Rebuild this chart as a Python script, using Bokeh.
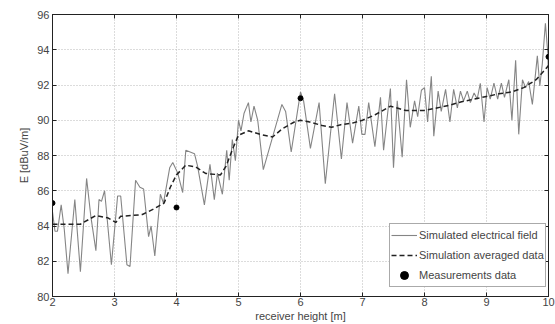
from bokeh.plotting import figure
from bokeh.models import Range1d, Legend, LegendItem, FixedTicker, LinearAxis, CustomJSTickFormatter
from bokeh.embed import file_html
from bokeh.resources import INLINE

# Simulated electrical field
sim_x = [2.00, 2.04, 2.08, 2.14, 2.19, 2.25, 2.36, 2.45, 2.55, 2.62, 2.70, 2.75, 2.79, 2.84,
         2.95, 3.05, 3.10, 3.20, 3.25, 3.34, 3.41, 3.47, 3.55, 3.59, 3.65, 3.74, 3.79, 3.89,
         3.94, 4.02, 4.10, 4.15, 4.29, 4.34, 4.45, 4.54, 4.61, 4.66, 4.74, 4.81, 4.85, 4.90,
         4.95, 5.00, 5.04, 5.09, 5.16, 5.20, 5.25, 5.31, 5.40, 5.70, 5.76, 5.85, 5.96, 6.00,
         6.05, 6.16, 6.30, 6.40, 6.55, 6.66, 6.75, 6.84, 6.94, 6.99, 7.04, 7.10, 7.20, 7.29,
         7.34, 7.45, 7.50, 7.56, 7.64, 7.71, 7.77, 7.84, 7.89, 7.95, 8.00, 8.05, 8.11, 8.15,
         8.22, 8.27, 8.34, 8.41, 8.47, 8.53, 8.58, 8.63, 8.69, 8.74, 8.80, 8.85, 8.90, 8.96,
         9.01, 9.06, 9.12, 9.18, 9.24, 9.29, 9.36, 9.41, 9.47, 9.52, 9.58, 9.63, 9.68, 9.74,
         9.82, 9.86, 9.90, 9.95, 9.99, 10.00]
sim_y = [84.8, 83.7, 83.7, 85.2, 83.8, 81.3, 85.5, 81.4, 86.7, 84.5, 82.6, 85.5, 85.4, 86.0,
         81.8, 85.7, 85.7, 81.8, 81.7, 86.6, 86.2, 86.1, 83.4, 84.0, 82.3, 85.8, 85.3, 87.3,
         87.6, 87.0, 85.9, 88.3, 88.1, 87.4, 85.2, 87.5, 85.5, 87.0, 85.8, 88.3, 86.6, 88.9,
         87.7, 90.0, 89.4, 90.4, 91.0, 89.9, 90.8, 90.0, 87.2, 90.9, 90.5, 88.2, 90.7, 91.6,
         91.1, 88.4, 91.0, 86.4, 91.5, 87.8, 91.0, 88.7, 90.8, 89.2, 89.2, 91.0, 88.5, 91.3,
         88.3, 91.8, 87.3, 91.1, 87.9, 92.3, 89.6, 91.1, 90.2, 91.7, 91.85, 89.9, 92.5, 89.1,
         91.65, 90.5, 91.75, 89.9, 91.75, 90.7, 91.65, 91.1, 91.65, 91.0, 91.55, 91.2, 92.1, 89.9,
         91.85, 91.2, 92.1, 91.2, 92.1, 91.3, 92.3, 90.0, 93.4, 89.2, 92.3, 91.85, 92.2, 90.9,
         93.65, 91.95, 93.2, 95.5, 93.75, 92.1]

# Simulation averaged data
avg_x = [2.0, 2.2, 2.45, 2.7, 2.9, 3.02, 3.1, 3.3, 3.45, 3.65, 3.8, 3.9, 4.0, 4.15, 4.31,
         4.47, 4.71, 4.8, 4.92, 5.0, 5.16, 5.35, 5.55, 5.7, 5.9, 6.0, 6.15, 6.35, 6.5, 6.65,
         6.85, 7.0, 7.2, 7.4, 7.45, 7.6, 7.7, 7.85, 8.0, 8.2, 8.4, 8.6, 8.8, 9.0, 9.2, 9.4,
         9.6, 9.8, 10.0]
avg_y = [84.1, 84.1, 84.1, 84.6, 84.45, 84.2, 84.55, 84.6, 84.65, 85.0, 85.3, 86.2, 86.9,
         87.45, 87.35, 86.98, 86.9, 87.4, 88.5, 89.15, 89.4, 89.2, 89.05, 89.5, 89.9, 90.0,
         89.9, 89.7, 89.6, 89.75, 89.85, 90.0, 90.3, 90.7, 90.8, 90.65, 90.55, 90.55, 90.55,
         90.7, 90.85, 91.05, 91.2, 91.35, 91.5, 91.6, 91.85, 92.3, 93.1]

# Measurements data
meas_x = [2, 4, 6, 10]
meas_y = [85.3, 85.05, 91.25, 93.6]

x_ticks = [2, 3, 4, 5, 6, 7, 8, 9, 10]
y_ticks = [80, 82, 84, 86, 88, 90, 92, 94, 96]

FONT = "Liberation Sans"

p = figure(width=555, height=324, output_backend="svg", toolbar_location=None,
           x_range=Range1d(2, 10), y_range=Range1d(80, 96),
           min_border_left=52, min_border_right=7, min_border_top=14, min_border_bottom=27)
p.background_fill_color = "white"
p.border_fill_color = "white"
p.outline_line_color = "#222222"
p.outline_line_width = 1

for ax in (p.xaxis[0], p.yaxis[0]):
    ax.major_tick_in = 4
    ax.major_tick_out = 0
    ax.minor_tick_line_color = None
    ax.major_label_text_font = FONT
    ax.major_label_text_font_size = "11px"
    ax.axis_label_text_font = FONT
    ax.axis_label_text_font_size = "11px"
    ax.axis_label_text_font_style = "normal"
    ax.axis_line_color = "#222222"
    ax.major_tick_line_color = "#222222"
    ax.major_label_standoff = 1
    ax.axis_label_standoff = 1

p.xaxis[0].ticker = FixedTicker(ticks=x_ticks)
p.yaxis[0].ticker = FixedTicker(ticks=y_ticks)
p.xaxis[0].axis_label = "receiver height [m]"
p.yaxis[0].axis_label = "E [dBuV/m]"
p.yaxis[0].axis_label_standoff = 4
p.yaxis[0].major_label_standoff = 3

for loc, ticks in (("right", y_ticks), ("above", x_ticks)):
    ax = LinearAxis(ticker=FixedTicker(ticks=ticks),
                    formatter=CustomJSTickFormatter(code="return ''"))
    ax.major_tick_in = 4
    ax.major_tick_out = 0
    ax.minor_tick_line_color = None
    ax.major_label_standoff = 0
    ax.axis_line_color = "#222222"
    ax.major_tick_line_color = "#222222"
    p.add_layout(ax, loc)

p.xgrid.ticker = FixedTicker(ticks=x_ticks)
p.ygrid.ticker = FixedTicker(ticks=y_ticks)
for g in (p.xgrid[0], p.ygrid[0]):
    g.grid_line_color = "#b8b8b8"
    g.grid_line_dash = "1 2"
    g.grid_line_width = 1

r1 = p.line(sim_x, sim_y, line_color="#858585", line_width=1.1)
r2 = p.line(avg_x, avg_y, line_color="#222222", line_width=1.5, line_dash="5 3")
r3 = p.scatter(meas_x, meas_y, size=5, color="black")

legend = Legend(items=[
    LegendItem(label="Simulated electrical field", renderers=[r1]),
    LegendItem(label="Simulation averaged data", renderers=[r2]),
    LegendItem(label="Measurements data", renderers=[r3]),
], location=(337, 9))
legend.label_text_font = FONT
legend.label_text_font_size = "11px"
legend.border_line_color = "#555555"
legend.border_line_width = 1
legend.background_fill_alpha = 1
legend.margin = 0
legend.padding = 1
legend.spacing = 0
legend.label_height = 20
legend.glyph_height = 20
legend.glyph_width = 26
legend.label_standoff = 2
p.add_layout(legend)

open("out.html", "w").write(file_html(p, INLINE))
